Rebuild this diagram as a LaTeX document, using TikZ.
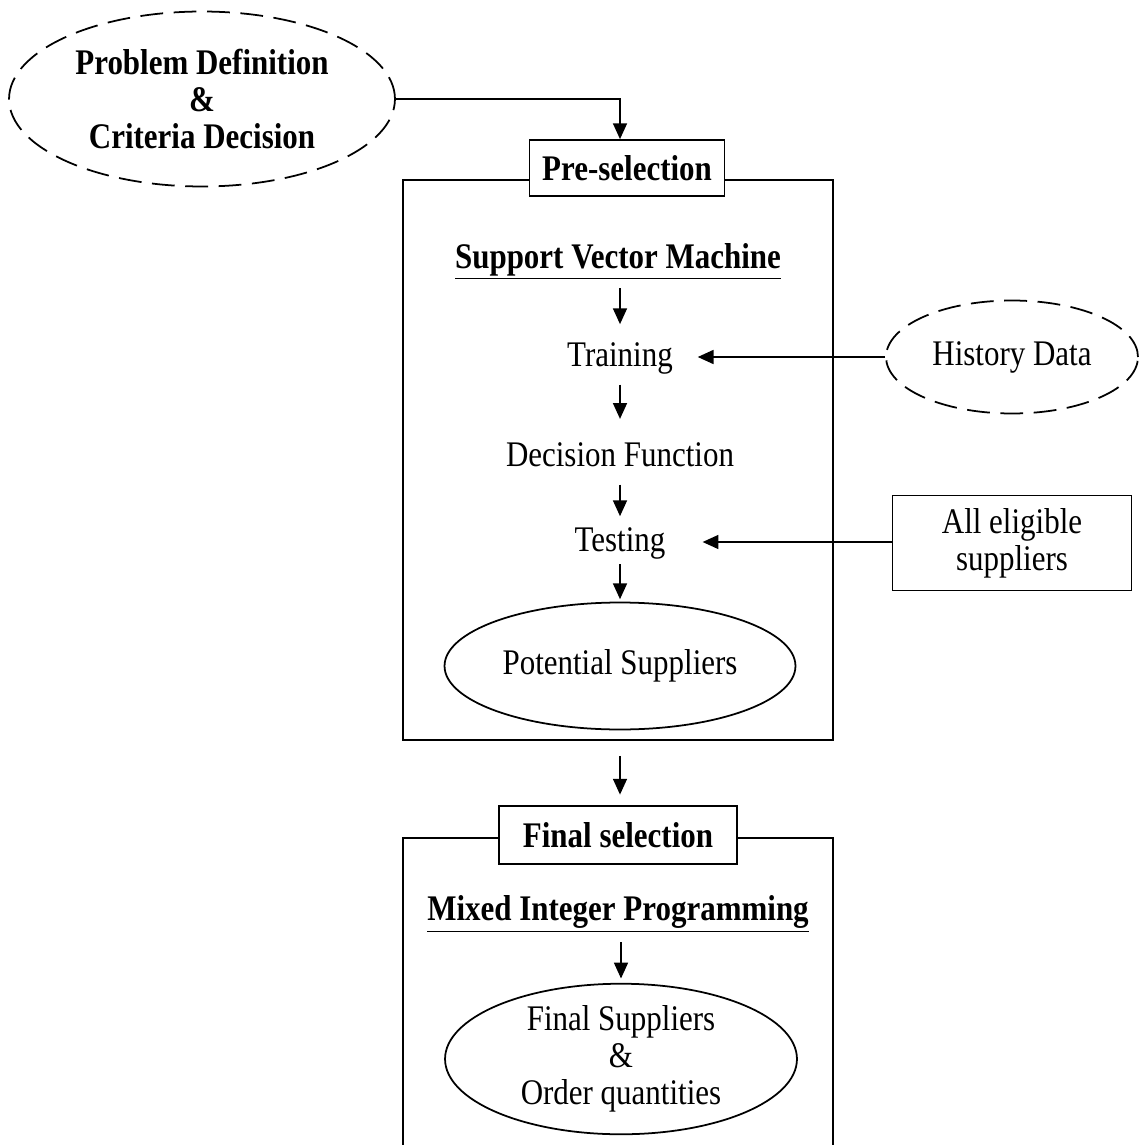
\documentclass[tikz,border=0pt]{standalone}
\usepackage{fontspec}
\setmainfont{Liberation Serif}[FakeStretch=0.86]
\usetikzlibrary{shapes.geometric,arrows.meta}

\tikzset{
  frame/.style={draw, line width=1pt, minimum width=8.6cm},
  labelbox/.style={draw, fill=white, line width=1pt, font=\fontsize{20.5}{21}\selectfont\bfseries},
  cloud/.style={draw, ellipse, dash pattern=on 13pt off 6pt, line width=1pt, inner sep=0pt, align=center},
  oval/.style={draw, ellipse, line width=1pt, inner sep=0pt, align=center},
  txt/.style={text height=15pt, text depth=4pt, inner sep=2pt},
  arr/.style={-{Triangle[length=9pt,width=8pt]}, line width=0.8pt},
}

\begin{document}
\begin{tikzpicture}[x=0.02cm, y=-0.02cm, font=\fontsize{20.5}{21}\selectfont]
	\useasboundingbox (0,0) rectangle (1139,1145);
	\clip (0,0) rectangle (1139,1145);
	% outer frames of the two stages
	\node[frame, minimum height=11.2cm] (stage1) at (618,460) {};
	\node[frame, minimum height=7.24cm] (stage2) at (618,1019) {};
	% input ellipse
	\node[cloud, minimum width=7.72cm, minimum height=3.5cm, font=\fontsize{20.5}{21}\selectfont\bfseries] (prob) at (202,99) {Problem Definition\\\&\\Criteria Decision};
	% stage 1: pre-selection
	\node[labelbox, minimum width=3.9cm, minimum height=1.12cm] (pre) at (627,168) {Pre-selection};
	\node[txt, font=\fontsize{20.5}{21}\selectfont\bfseries] (svm) at (618,259) {\underline{Support Vector Machine}};
	\node[txt] (tr) at (620,357) {Training};
	\node[txt] (dec) at (620,457) {Decision Function};
	\node[txt] (test) at (620,542) {Testing};
	\node[oval, minimum width=7.02cm, minimum height=2.54cm] (pot) at (620,666) {Potential Suppliers};
	% side inputs
	\node[cloud, minimum width=5.04cm, minimum height=2.26cm] (hist) at (1012,357) {History Data};
	\node[draw, line width=1pt, align=center, minimum width=4.78cm, minimum height=1.9cm] (elig) at (1012,543) {All eligible\\suppliers};
	% stage 2: final selection
	\node[labelbox, minimum width=4.76cm, minimum height=1.16cm] (fsel) at (618,835) {Final selection};
	\node[txt, font=\fontsize{20.5}{21}\selectfont\bfseries] (mip) at (618,911) {\underline{Mixed Integer Programming}};
	\node[oval, minimum width=7.04cm, minimum height=2.9cm] (fin) at (621,1059) {Final Suppliers\\\&\\Order quantities};
	% connectors
	\draw[arr] (prob.east) -| (tr |- pre.north);
	\draw[arr, shorten <=5pt, shorten >=7pt] (svm.south -| tr) -- (tr.north);
	\draw[arr, shorten <=4pt, shorten >=10pt] (tr) -- (dec);
	\draw[arr, shorten <=4pt, shorten >=3pt] (dec) -- (test);
	\draw[arr, shorten <=1pt, shorten >=1.4pt] (test) -- (pot);
	\draw[arr, shorten >=12pt] (hist.west) -- (tr.east);
	\draw[arr, shorten >=19pt] (elig.west |- test) -- (test.east);
	\draw[arr, shorten <=8.5pt, shorten >=6pt] (stage1.south -| tr) -- (fsel.north -| tr);
	\draw[arr, shorten <=6pt, shorten >=2.5pt] (mip.south -| fin) -- (fin);
\end{tikzpicture}
\end{document}
